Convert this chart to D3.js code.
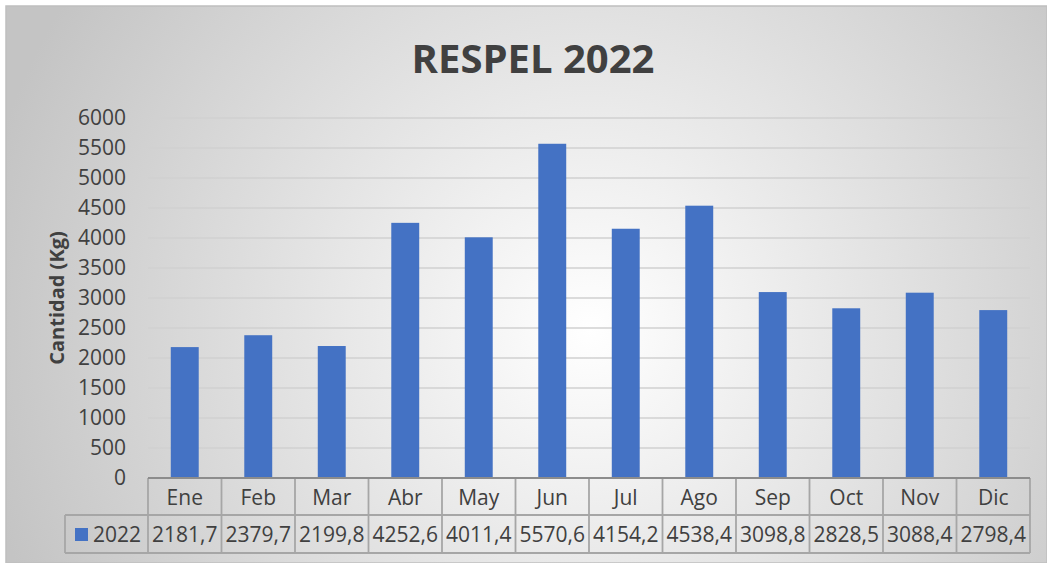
<!DOCTYPE html>
<html>
<head>
<meta charset="utf-8">
<script src="https://cdn.jsdelivr.net/npm/d3@7"></script>
<style>
  body { margin: 0; background: #fff; }
  svg { display: block; font-family: "Open Sans", "Noto Sans", sans-serif; }
</style>
</head>
<body>
<svg id="chart" width="1047" height="563"></svg>
<script>
const months = ["Ene", "Feb", "Mar", "Abr", "May", "Jun", "Jul", "Ago", "Sep", "Oct", "Nov", "Dic"];
const values2022 = [2181.7, 2379.7, 2199.8, 4252.6, 4011.4, 5570.6, 4154.2, 4538.4, 3098.8, 2828.5, 3088.4, 2798.4];
const seriesName = "2022";
const yTicks = [0, 500, 1000, 1500, 2000, 2500, 3000, 3500, 4000, 4500, 5000, 5500, 6000];

const W = 1047, H = 563;
const margin = { left: 148, right: 17, top: 118, bottom: 85 };
const txt = "#404040";
const svg = d3.select("#chart");

// background with radial gradient, like the office chart style
const defs = svg.append("defs");
const grad = defs.append("radialGradient")
    .attr("id", "bg")
    .attr("gradientUnits", "userSpaceOnUse")
    .attr("cx", 590).attr("cy", 330).attr("r", 620);
grad.append("stop").attr("offset", "0%").attr("stop-color", "#ffffff");
grad.append("stop").attr("offset", "100%").attr("stop-color", "#c4c4c4");

svg.append("rect")
    .attr("x", 6).attr("y", 6)
    .attr("width", W - 6).attr("height", H - 6)
    .attr("fill", "url(#bg)")
    .attr("stroke", "#bfbfbf")
    .attr("stroke-width", 1.5);

const x = d3.scaleBand()
    .domain(months)
    .range([margin.left, W - margin.right]);

const y = d3.scaleLinear()
    .domain([0, 6000])
    .range([H - margin.bottom, margin.top]);

// gridlines
svg.append("g")
    .selectAll("line")
    .data(yTicks)
    .enter().append("line")
    .attr("x1", margin.left)
    .attr("x2", W - margin.right)
    .attr("y1", d => y(d))
    .attr("y2", d => y(d))
    .attr("stroke", "#d0d0d0")
    .attr("stroke-width", 1.3);

// y axis labels
const yAxis = svg.append("g")
    .attr("transform", `translate(${margin.left},0)`)
    .call(d3.axisLeft(y).tickValues(yTicks).tickFormat(d3.format("d")).tickSize(0).tickPadding(22));
yAxis.select(".domain").remove();
yAxis.selectAll("text")
    .attr("font-size", 21)
    .attr("font-family", "'Open Sans', sans-serif")
    .attr("fill", txt);

// bars
const barW = x.bandwidth() * 0.38;
svg.append("g")
    .selectAll("rect")
    .data(values2022)
    .enter().append("rect")
    .attr("x", (d, i) => x(months[i]) + (x.bandwidth() - barW) / 2)
    .attr("y", d => y(d))
    .attr("width", barW)
    .attr("height", d => y(0) - y(d))
    .attr("fill", "#4472c4");

// data table
const row1Top = y(0), row1Bot = 515, row2Bot = 553;
const legendLeft = 65;
const tableLine = "#a6a6a6";
const table = svg.append("g");

table.selectAll(".hdr")
    .data(months)
    .enter().append("text")
    .attr("x", d => x(d) + x.bandwidth() / 2)
    .attr("y", (row1Top + row1Bot) / 2 + 8)
    .attr("text-anchor", "middle")
    .attr("font-size", 21)
    .attr("fill", txt)
    .text(d => d);

table.selectAll(".val")
    .data(values2022)
    .enter().append("text")
    .attr("x", (d, i) => x(months[i]) + x.bandwidth() / 2)
    .attr("y", (row1Bot + row2Bot) / 2 + 8)
    .attr("text-anchor", "middle")
    .attr("font-size", 21)
    .attr("fill", txt)
    .text(d => d.toFixed(1).replace(".", ","));

// vertical cell lines
const vx = months.map(m => x(m)).concat([W - margin.right]);
table.selectAll(".vl")
    .data(vx)
    .enter().append("line")
    .attr("x1", d => d).attr("x2", d => d)
    .attr("y1", row1Top).attr("y2", row2Bot)
    .attr("stroke", tableLine).attr("stroke-width", 1.8);

table.append("line")
    .attr("x1", legendLeft).attr("x2", legendLeft)
    .attr("y1", row1Bot).attr("y2", row2Bot)
    .attr("stroke", tableLine).attr("stroke-width", 1.8);

table.append("line")
    .attr("x1", legendLeft).attr("x2", W - margin.right)
    .attr("y1", row1Bot).attr("y2", row1Bot)
    .attr("stroke", tableLine).attr("stroke-width", 1.8);

table.append("line")
    .attr("x1", legendLeft).attr("x2", W - margin.right)
    .attr("y1", row2Bot).attr("y2", row2Bot)
    .attr("stroke", tableLine).attr("stroke-width", 1.8);

// axis line on top of table
table.append("line")
    .attr("x1", margin.left).attr("x2", W - margin.right)
    .attr("y1", row1Top).attr("y2", row1Top)
    .attr("stroke", "#8c8c8c").attr("stroke-width", 2);

// legend key
table.append("rect")
    .attr("x", 75).attr("y", 528)
    .attr("width", 13).attr("height", 13)
    .attr("fill", "#4472c4");
table.append("text")
    .attr("x", 93)
    .attr("y", (row1Bot + row2Bot) / 2 + 8)
    .attr("font-size", 21)
    .attr("fill", txt)
    .text(seriesName);

// title
svg.append("text")
    .attr("x", 533)
    .attr("y", 73)
    .attr("text-anchor", "middle")
    .attr("font-size", 40)
    .attr("font-weight", "bold")
    .attr("fill", txt)
    .text("RESPEL 2022");

// y axis title
svg.append("text")
    .attr("transform", "translate(64,298) rotate(-90)")
    .attr("text-anchor", "middle")
    .attr("font-size", 20)
    .attr("font-weight", "bold")
    .attr("fill", txt)
    .text("Cantidad (Kg)");
</script>
</body>
</html>
